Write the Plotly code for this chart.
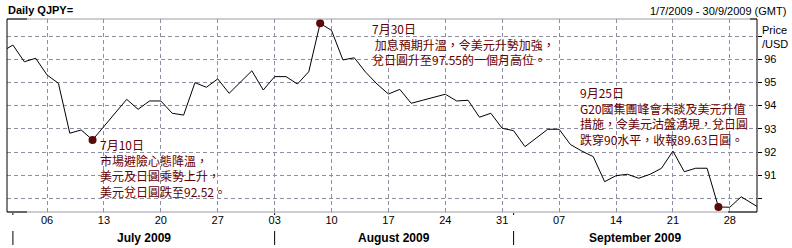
import pandas as pd
import numpy as np
import plotly.graph_objects as go

# ---------------- data ----------------
dates = pd.bdate_range("2009-06-30", "2009-10-01")  # trading days (weekdays)
prices = [
    96.32,                                                     # Jun 30
    96.61, 95.89, 96.04, 95.32, 94.96, 92.81, 92.95, 92.52,    # Jul 1-10
    93.10, 93.70, 94.27, 93.84, 94.20, 94.20, 93.67, 93.59,    # Jul 13-22
    94.99, 94.79, 95.15, 94.53, 95.03, 95.50, 94.67,           # Jul 23-31
    95.25, 95.25, 94.93, 95.46, 97.55, 97.24, 95.97, 96.06,    # Aug 3-12
    95.44, 94.93, 94.50, 94.70, 94.10, 94.23, 94.37, 94.49,    # Aug 13-24
    94.20, 94.23, 93.50, 93.67, 93.02,                         # Aug 25-31
    92.92, 92.23, 92.60, 92.98, 92.98, 92.32, 92.04, 91.80,    # Sep 1-10
    90.72, 90.98, 91.04, 90.87, 91.04, 91.30, 92.04, 91.15,    # Sep 11-22
    91.30, 91.30, 89.63, 89.62, 90.07, 89.79,                  # Sep 23-30
    89.47,                                                     # Oct 1
]
highlight_dates = ["2009-07-10", "2009-08-07", "2009-09-25"]
y_tick_values = [90, 91, 92, 93, 94, 95, 96, 97]
y_tick_labels = ["", "91", "92", "93", "94", "95", "96", ""]
month_labels = ["July 2009", "August 2009", "September 2009"]
title_left = "Daily QJPY="
title_right = "1/7/2009 - 30/9/2009 (GMT)"
ann1 = ["7月10日", "市場避險心態降溫，", "美元及日圓乘勢上升，", "美元兌日圓跌至92.52。"]
ann2 = ["7月30日", "\u00a0加息預期升溫，令美元升勢加強，", "兌日圓升至97.55的一個月高位。"]
ann3 = ["9月25日", "G20國集團峰會未談及美元升值", "措施，令美元沽盤湧現，兌日圓", "跌穿90水平，收報89.63日圓。"]

# ---------------- derived ----------------
idx = np.arange(len(dates)) - 1          # Jul 1 -> 0
date_str = [d.strftime("%Y-%m-%d") for d in dates]
mondays = [i for i, d in zip(idx, dates) if d.weekday() == 0 and 0 <= i <= 65]
monday_text = [dates[i + 1].strftime("%d") for i in mondays]
hi_x = [idx[date_str.index(d)] for d in highlight_dates]
hi_y = [prices[date_str.index(d)] for d in highlight_dates]
month_starts = []
for m in (7, 8, 9):
    first = next(i for i, d in zip(idx, dates) if d.month == m and d.year == 2009)
    month_starts.append(first)

W, H = 792, 248
L, R, T, B = 7, 757, 19, 212


def px(x):
    return (x - L) / (R - L)


def py(y):
    return (B - y) / (B - T)


GRID = "#8e8ea0"
TXT = "#640000"
LAT = "Liberation Sans, Arial, sans-serif"
CJK = "Noto Sans CJK TC, sans-serif"

fig = go.Figure()
fig.add_trace(go.Scatter(x=idx, y=prices, mode="lines",
                         line=dict(color="black", width=1), hoverinfo="skip"))
fig.add_trace(go.Scatter(x=hi_x, y=hi_y, mode="markers",
                         marker=dict(color="#5a0a0a", size=8), hoverinfo="skip"))

annotations = []
# block annotations: (lines, left px, centre px of block)
for lines, x0, yc in ((ann1, 99, 168), (ann2, 371, 44), (ann3, 579, 116)):
    annotations.append(dict(text="<br>".join(lines), x=px(x0), y=py(yc), xref="paper", yref="paper",
                            xanchor="left", yanchor="middle", align="left", showarrow=False,
                            borderpad=0, font=dict(family=CJK, size=12, color=TXT)))

annotations.append(dict(text="<b>" + title_left + "</b>", x=px(6), y=py(10), xref="paper", yref="paper",
                        xanchor="left", yanchor="middle", showarrow=False,
                        font=dict(family=LAT, size=11, color="black")))
annotations.append(dict(text=title_right, x=px(788), y=py(11), xref="paper", yref="paper",
                        xanchor="right", yanchor="middle", showarrow=False,
                        font=dict(family=LAT, size=11, color="black")))
annotations.append(dict(text="Price<br>/USD", x=px(761), y=py(37), xref="paper", yref="paper",
                        xanchor="left", yanchor="middle", align="left", showarrow=False,
                        borderpad=0, font=dict(family=LAT, size=11, color="black")))

bounds = month_starts + [65.39]
for k, lab in enumerate(month_labels):
    annotations.append(dict(text="<b>" + lab + "</b>", x=(bounds[k] + bounds[k + 1]) / 2, y=py(238),
                            xref="x", yref="paper", xanchor="center", yanchor="middle",
                            showarrow=False, font=dict(family=LAT, size=12, color="black")))

shapes = []
# frame
shapes.append(dict(type="line", xref="paper", yref="paper", x0=0, x1=1, y0=1, y1=1,
                   line=dict(color="#9a9aa6", width=1)))
shapes.append(dict(type="line", xref="paper", yref="paper", x0=0, x1=1, y0=0, y1=0,
                   line=dict(color="#9a9aa6", width=1)))
for x0, x1, yy in ((7, 27, 19), (7, 27, 212), (728, 757, 212), (750, 757, 19)):
    shapes.append(dict(type="line", xref="paper", yref="paper", x0=px(x0), x1=px(x1),
                       y0=py(yy), y1=py(yy), line=dict(color="black", width=1)))
shapes.append(dict(type="line", xref="paper", yref="paper", x0=0, x1=0, y0=0, y1=1,
                   line=dict(color="black", width=1)))
shapes.append(dict(type="line", xref="paper", yref="paper", x0=1, x1=1, y0=0, y1=1,
                   line=dict(color="black", width=1)))
# month separators
for ms in month_starts:
    shapes.append(dict(type="line", xref="x", yref="paper", x0=ms, x1=ms, y0=py(231), y1=py(245),
                       line=dict(color="black", width=1)))
    shapes.append(dict(type="line", xref="x", yref="paper", x0=ms, x1=ms, y0=py(213), y1=py(215),
                       line=dict(color="black", width=1)))

fig.update_layout(
    width=W, height=H,
    margin=dict(l=L, r=W - R, t=T, b=H - B, pad=0),
    paper_bgcolor="white", plot_bgcolor="white",
    showlegend=False,
    annotations=annotations, shapes=shapes,
    xaxis=dict(range=[-0.52, 65.39], tickvals=mondays, ticktext=monday_text,
               showgrid=True, gridcolor=GRID, griddash="4px,3px", gridwidth=1,
               zeroline=False, showline=False, ticks="",
               tickfont=dict(family=LAT, size=11, color="black")),
    yaxis=dict(range=[89.414, 97.733], side="right", tickvals=y_tick_values, ticktext=y_tick_labels,
               showgrid=True, gridcolor=GRID, griddash="4px,3px", gridwidth=1,
               zeroline=False, showline=False, ticks="outside", ticklen=4, tickcolor="black",
               tickfont=dict(family=LAT, size=11, color="black")),
)

fig.write_html("out.html")
